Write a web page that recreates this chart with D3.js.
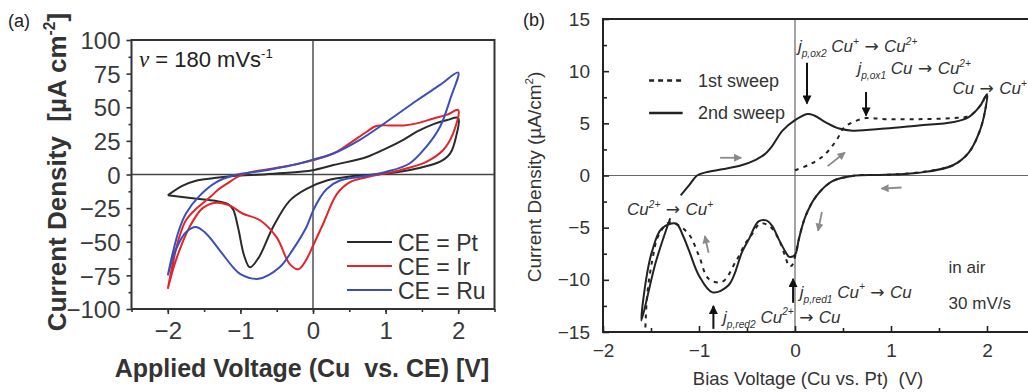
<!DOCTYPE html>
<html>
<head>
<meta charset="utf-8">
<script src="https://cdn.jsdelivr.net/npm/d3@7"></script>
<style>
  body { margin: 0; background: #fff; }
  text { font-family: "Liberation Sans", Arial, sans-serif; }
</style>
</head>
<body>
<script>
// ---------- data : panel (a), cyclic voltammograms for three counter electrodes
const seriesNamesA = ["CE = Pt", "CE = Ir", "CE = Ru"];
const seriesColorsA = ["#2a2a2a", "#e3242b", "#3a4fb8"];

// [voltage, current density]  anodic branch first, then the cathodic branch back
const ptCurve = [[-2,-15.5],[-1.8,-8.5],[-1.6,-4.5],[-1.33,-2.5],[-1.1,-1.2],[-0.64,0.2],[-0.18,2],[0,3.2],[0.28,7],[0.74,13],[1.01,19.4],[1.25,26],[1.43,31.8],[1.66,37.5],[1.85,40.5],[2,42],
  [1.97,28],[1.89,15.7],[1.75,9.5],[1.43,4.5],[1.01,0.7],[0.51,-1.5],[0.19,-4.5],[-0.09,-10.7],[-0.32,-19.4],[-0.55,-39],[-0.75,-62],[-0.87,-69],[-0.95,-60],[-1.03,-40],[-1.1,-26],[-1.17,-22],[-1.35,-19.5],[-1.6,-18],[-2,-15.5]];
const irCurve = [[-2,-85],[-1.93,-66],[-1.85,-48],[-1.75,-34],[-1.6,-25],[-1.42,-17],[-1.3,-11],[-1.19,-7],[-1.0,-0.7],[-0.83,2],[-0.41,5.7],[0,10.7],[0.28,15.6],[0.5,23],[0.74,31.8],[0.87,36],[1.06,36.5],[1.25,36.5],[1.43,38],[1.66,41.7],[1.85,44.5],[2,48],
  [1.93,30.6],[1.79,18],[1.56,9.4],[1.2,3.2],[0.74,-2],[0.51,-5.7],[0.33,-14.4],[0.14,-36.6],[0,-53],[-0.1,-64],[-0.2,-70.4],[-0.32,-66.6],[-0.5,-46.8],[-0.73,-34],[-0.97,-29],[-1.15,-23],[-1.33,-21],[-1.52,-25],[-1.7,-39],[-1.89,-64],[-2,-85]];
const ruCurve = [[-2,-75],[-1.93,-58],[-1.85,-42],[-1.75,-29],[-1.56,-15.7],[-1.33,-5.7],[-1.1,-0.7],[-0.64,3.2],[-0.28,7],[0,11],[0.28,15.6],[0.64,25.6],[1.01,39],[1.43,55],[1.75,66.6],[2,75.8],
  [1.9,57.7],[1.75,35.5],[1.56,20.6],[1.33,8.2],[1.01,2],[0.74,-1],[0.37,-4.5],[0.19,-10.7],[0.1,-17],[0,-27],[-0.09,-39],[-0.28,-56],[-0.46,-69],[-0.75,-77.5],[-1.0,-74],[-1.1,-69],[-1.29,-56],[-1.47,-44],[-1.61,-39],[-1.75,-43],[-1.89,-56],[-2,-75]];

const xTicksA = [-2, -1, 0, 1, 2];
const yTicksA = [100, 75, 50, 25, 0, -25, -50, -75, -100];

// ---------- data : panel (b), Cu vs Pt in air
const firstSweep = [[0,0.5],[0.15,1.05],[0.27,1.7],[0.35,2.4],[0.44,3.5],[0.51,4.6],[0.6,5.1],[0.74,5.5],[0.94,5.4],[1.29,5.4],[1.64,5.5],[1.81,5.7],[1.93,6.7],[2,7.8],
  [1.98,6.2],[1.92,4.15],[1.81,2.2],[1.64,0.96],[1.29,0.3],[0.94,0.06],[0.63,0],[0.39,-0.55],[0.22,-2],[0.11,-3.9],[0.04,-6.1],[0,-7.8],[-0.03,-8.6],[-0.06,-8.7],[-0.1,-7.8],[-0.17,-6.1],[-0.26,-4.9],[-0.36,-4.6],[-0.46,-5.8],[-0.51,-6.4],[-0.62,-8.3],[-0.76,-10.2],[-0.9,-9.9],[-1.0,-7.7],[-1.1,-5.7],[-1.21,-4.8],[-1.31,-4.5],[-1.42,-5.7],[-1.49,-8.3],[-1.54,-11.5],[-1.56,-15]];
const secondSweep = [[-1.19,-1.9],[-1.1,-0.9],[-1.02,0],[-0.93,0.3],[-0.76,0.6],[-0.55,1],[-0.41,1.5],[-0.32,2],[-0.24,2.8],[-0.13,4.3],[0,5.3],[0.13,5.9],[0.2,5.75],[0.32,5.1],[0.46,4.5],[0.6,4.3],[0.94,4.5],[1.29,4.8],[1.64,5.1],[1.81,5.6],[1.93,6.7],[2,7.8],
  [1.98,6.2],[1.92,4.15],[1.81,2.2],[1.64,0.96],[1.29,0.26],[0.94,0.06],[0.63,0],[0.39,-0.55],[0.22,-2],[0.11,-3.9],[0.04,-6.1],[0,-7.6],[-0.06,-7.8],[-0.1,-7.3],[-0.17,-6.1],[-0.24,-4.8],[-0.3,-4.3],[-0.38,-4.4],[-0.48,-6.1],[-0.55,-7.3],[-0.69,-10.5],[-0.86,-11.2],[-1.0,-9.6],[-1.1,-7.3],[-1.17,-5.7],[-1.24,-4.6],[-1.39,-5.1],[-1.49,-7.3],[-1.55,-9.9],[-1.6,-13.9],
  [-1.45,-8.3],[-1.3,-4.1]];

const xTicksB = [-2, -1, 0, 1, 2];
const yTicksB = [15, 10, 5, 0, -5, -10, -15];

const width = 1028, height = 392;

const svg = d3.select("body").append("svg")
  .attr("width", width)
  .attr("height", height);

const defs = svg.append("defs");
function marker(id, color, w, h) {
  defs.append("marker")
    .attr("id", id).attr("viewBox", "0 0 10 10")
    .attr("refX", 9).attr("refY", 5)
    .attr("markerUnits", "userSpaceOnUse")
    .attr("markerWidth", w).attr("markerHeight", h)
    .attr("orient", "auto")
    .append("path").attr("d", "M0,0 L10,5 L0,10 Z").attr("fill", color);
}
marker("headBlack", "#111", 10, 9);
marker("headGrey", "#8a8a8a", 9, 8);

// text with super/subscripts: parts = [[string, ""|"sup"|"sub"|"arr"], ...]
function rich(sel, parts, size) {
  let shift = 0;
  parts.forEach(([s, k]) => {
    const target = k === "sup" ? -0.42 * size : k === "sub" ? 0.3 * size : 0;
    const t = sel.append("tspan")
      .attr("dy", target - shift)
      .attr("font-size", (k === "sup" || k === "sub") ? size * 0.6 : size)
      .text(s);
    if (k === "arr") t.attr("font-family", "DejaVu Sans, sans-serif").attr("font-style", "normal");
    shift = target;
  });
  return sel;
}

// ====================== panel (a) ======================
const xA = d3.scaleLinear().domain([-2.5, 2.5]).range([131.5, 494.5]);
const yA = d3.scaleLinear().domain([-100, 100]).range([309, 40]);
const gA = svg.append("g");

// zero lines
gA.append("line").attr("x1", xA(-2.5)).attr("x2", xA(2.5)).attr("y1", yA(0)).attr("y2", yA(0))
  .attr("stroke", "#444").attr("stroke-width", 1.4);
gA.append("line").attr("x1", xA(0)).attr("x2", xA(0)).attr("y1", yA(-100)).attr("y2", yA(100))
  .attr("stroke", "#444").attr("stroke-width", 1.4);

// curves
const lineA = d3.line().x(d => xA(d[0])).y(d => yA(d[1])).curve(d3.curveCatmullRom.alpha(0.5));
[ptCurve, irCurve, ruCurve].forEach((c, i) => {
  gA.append("path").datum(c).attr("d", lineA)
    .attr("fill", "none").attr("stroke", seriesColorsA[i]).attr("stroke-width", 2);
});

// axes (ticks outward)
const axA = gA.append("g").attr("transform", `translate(0,${yA(-100)})`)
  .call(d3.axisBottom(xA).tickValues(xTicksA).tickSize(5).tickSizeOuter(0).tickPadding(8).tickFormat(d3.format("d")));
gA.append("g").attr("transform", `translate(0,${yA(-100)})`)
  .call(d3.axisBottom(xA).tickValues(d3.range(-2.5, 2.6, 0.5)).tickSize(3).tickSizeOuter(0).tickFormat(""));
const ayA = gA.append("g").attr("transform", `translate(${xA(-2.5)},0)`)
  .call(d3.axisLeft(yA).tickValues(yTicksA).tickSize(5).tickSizeOuter(0).tickPadding(6));
gA.append("g").attr("transform", `translate(${xA(-2.5)},0)`)
  .call(d3.axisLeft(yA).tickValues(d3.range(-87.5, 100, 25)).tickSize(3).tickSizeOuter(0).tickFormat(""));
[axA, ayA].forEach(a => {
  a.selectAll("text").attr("font-size", 24).attr("fill", "#3a3a3a").attr("font-family", "Liberation Sans, Arial, sans-serif");
});
ayA.selectAll("text").attr("dy", "0.36em");
gA.selectAll(".domain").remove();
gA.selectAll(".tick line").attr("stroke", "#333").attr("stroke-width", 1.6);

// frame
gA.append("rect").attr("x", xA(-2.5)).attr("y", yA(100))
  .attr("width", xA(2.5) - xA(-2.5)).attr("height", yA(-100) - yA(100))
  .attr("fill", "none").attr("stroke", "#333").attr("stroke-width", 2);

// titles
gA.append("text").attr("x", 302).attr("y", 377).attr("text-anchor", "middle")
  .attr("font-size", 25).attr("font-weight", "bold").attr("fill", "#333")
  .text("Applied Voltage (Cu\u00a0 vs. CE) [V]");
rich(gA.append("text").attr("transform", "translate(66,172) rotate(-90)").attr("text-anchor", "middle")
  .attr("font-weight", "bold").attr("fill", "#333"),
  [["Current Density\u00a0 [µA cm", ""], ["-2", "sup"], ["]", ""]], 26);
gA.append("text").attr("x", 8).attr("y", 27).attr("font-size", 18).attr("fill", "#222").text("(a)");

// scan-rate note
const nu = gA.append("text").attr("x", 139).attr("y", 67).attr("fill", "#222");
nu.append("tspan").attr("font-family", "Liberation Serif, serif").attr("font-style", "italic").attr("font-size", 23).text("ν");
rich(nu, [[" = 180 mVs", ""], ["-1", "sup"]], 22);

// legend
seriesNamesA.forEach((name, i) => {
  const y = 242 + i * 24;
  gA.append("line").attr("x1", 347).attr("x2", 392).attr("y1", y).attr("y2", y)
    .attr("stroke", seriesColorsA[i]).attr("stroke-width", 2);
  gA.append("text").attr("x", 398).attr("y", y + 8.5).attr("font-size", 23).attr("fill", "#333").text(name);
});

// ====================== panel (b) ======================
const xB = d3.scaleLinear().domain([-2, 2.5]).range([603, 1035]);
const yB = d3.scaleLinear().domain([-15, 15]).range([332, 19]);
const gB = svg.append("g");

gB.append("line").attr("x1", xB(-2)).attr("x2", xB(2.5)).attr("y1", yB(0)).attr("y2", yB(0))
  .attr("stroke", "#666").attr("stroke-width", 1.2);
gB.append("line").attr("x1", xB(0)).attr("x2", xB(0)).attr("y1", yB(-15)).attr("y2", yB(15))
  .attr("stroke", "#666").attr("stroke-width", 1.2);

const lineB = d3.line().x(d => xB(d[0])).y(d => yB(d[1])).curve(d3.curveCatmullRom.alpha(0.5));
gB.append("path").datum(firstSweep).attr("d", lineB)
  .attr("fill", "none").attr("stroke", "#222").attr("stroke-width", 2).attr("stroke-dasharray", "4,5");
gB.append("path").datum(secondSweep).attr("d", lineB)
  .attr("fill", "none").attr("stroke", "#222").attr("stroke-width", 2);

// axes (ticks inward)
const axB = gB.append("g").attr("transform", `translate(0,${yB(-15)})`)
  .call(d3.axisBottom(xB).tickValues(xTicksB).tickSize(-6).tickSizeOuter(0).tickPadding(12).tickFormat(d3.format("d")));
gB.append("g").attr("transform", `translate(0,${yB(-15)})`)
  .call(d3.axisBottom(xB).tickValues(d3.range(-1.5, 2.6, 1)).tickSize(-4).tickSizeOuter(0).tickFormat(""));
const ayB = gB.append("g").attr("transform", `translate(${xB(-2)},0)`)
  .call(d3.axisLeft(yB).tickValues(yTicksB).tickSize(-6).tickSizeOuter(0).tickPadding(13));
gB.append("g").attr("transform", `translate(${xB(-2)},0)`)
  .call(d3.axisLeft(yB).tickValues(d3.range(-12.5, 15, 5)).tickSize(-4).tickSizeOuter(0).tickFormat(""));
[axB, ayB].forEach(a => {
  a.selectAll("text").attr("font-size", 19).attr("fill", "#333").attr("font-family", "Liberation Sans, Arial, sans-serif");
});
gB.selectAll(".domain").remove();
gB.selectAll(".tick line").attr("stroke", "#222").attr("stroke-width", 1.6);

gB.append("rect").attr("x", xB(-2)).attr("y", yB(15))
  .attr("width", xB(2.5) - xB(-2)).attr("height", yB(-15) - yB(15))
  .attr("fill", "none").attr("stroke", "#222").attr("stroke-width", 2);

gB.append("text").attr("x", 808).attr("y", 385).attr("text-anchor", "middle")
  .attr("font-size", 18.5).attr("fill", "#333").text("Bias Voltage (Cu vs. Pt)\u00a0 (V)");
rich(gB.append("text").attr("transform", "translate(541,177) rotate(-90)").attr("text-anchor", "middle").attr("fill", "#333"),
  [["Current Density (µA/cm", ""], ["2", "sup"], [")", ""]], 19);
gB.append("text").attr("x", 523).attr("y", 26).attr("font-size", 18).attr("fill", "#222").text("(b)");

// legend
gB.append("line").attr("x1", xB(-1.52)).attr("x2", xB(-1.17)).attr("y1", yB(9.1)).attr("y2", yB(9.1))
  .attr("stroke", "#222").attr("stroke-width", 2.5).attr("stroke-dasharray", "5,4");
gB.append("line").attr("x1", xB(-1.52)).attr("x2", xB(-1.17)).attr("y1", yB(6.0)).attr("y2", yB(6.0))
  .attr("stroke", "#222").attr("stroke-width", 2.5);
gB.append("text").attr("x", xB(-1.01)).attr("y", yB(9.1) + 6.5).attr("font-size", 18).attr("fill", "#333").text("1st sweep");
gB.append("text").attr("x", xB(-1.01)).attr("y", yB(6.0) + 6.5).attr("font-size", 18).attr("fill", "#333").text("2nd sweep");

// annotations
const notes = [
  { v: 0.03, j: 11.8, parts: [["j", ""], ["p,ox2", "sub"], [" Cu", ""], ["+", "sup"], [" → ", "arr"], ["Cu", ""], ["2+", "sup"]] },
  { v: 0.65, j: 9.7, parts: [["j", ""], ["p,ox1", "sub"], [" Cu", ""], [" → ", "arr"], ["Cu", ""], ["2+", "sup"]] },
  { v: 1.64, j: 7.8, parts: [["Cu", ""], [" → ", "arr"], ["Cu", ""], ["+", "sup"]] },
  { v: -1.75, j: -3.8, parts: [["Cu", ""], ["2+", "sup"], [" → ", "arr"], ["Cu", ""], ["+", "sup"]] },
  { v: 0.05, j: -11.7, parts: [["j", ""], ["p,red1", "sub"], [" Cu", ""], ["+", "sup"], [" → ", "arr"], ["Cu", ""]] },
  { v: -0.75, j: -14.1, parts: [["j", ""], ["p,red2", "sub"], [" Cu", ""], ["2+", "sup"], [" → ", "arr"], ["Cu", ""]] }
];
notes.forEach(n => {
  rich(gB.append("text").attr("x", xB(n.v)).attr("y", yB(n.j)).attr("font-style", "italic").attr("fill", "#333"),
    n.parts, 17);
});
gB.append("text").attr("x", xB(1.6)).attr("y", yB(-9.3)).attr("font-size", 17).attr("fill", "#333").text("in air");
gB.append("text").attr("x", xB(1.6)).attr("y", yB(-12.75)).attr("font-size", 17).attr("fill", "#333").text("30 mV/s");

// peak arrows (black) : [v, j from, j to]
const peakArrows = [[0.125, 10.8, 6.9], [0.74, 8.0, 5.75], [-0.02, -12.2, -9.9], [-0.85, -14.7, -12.5]];
peakArrows.forEach(a => {
  gB.append("line").attr("x1", xB(a[0])).attr("x2", xB(a[0])).attr("y1", yB(a[1])).attr("y2", yB(a[2]))
    .attr("stroke", "#111").attr("stroke-width", 2).attr("marker-end", "url(#headBlack)");
});

// sweep-direction arrows (grey) : [v1, j1, v2, j2]
const sweepArrows = [[-0.78, 1.7, -0.56, 1.7], [0.34, 0.9, 0.52, 2.2], [1.11, -1.15, 0.9, -1.25], [0.28, -3.5, 0.24, -5.3], [-0.9, -7.4, -0.94, -5.8]];
sweepArrows.forEach(a => {
  gB.append("line").attr("x1", xB(a[0])).attr("y1", yB(a[1])).attr("x2", xB(a[2])).attr("y2", yB(a[3]))
    .attr("stroke", "#8a8a8a").attr("stroke-width", 1.8).attr("marker-end", "url(#headGrey)");
});
</script>
</body>
</html>
